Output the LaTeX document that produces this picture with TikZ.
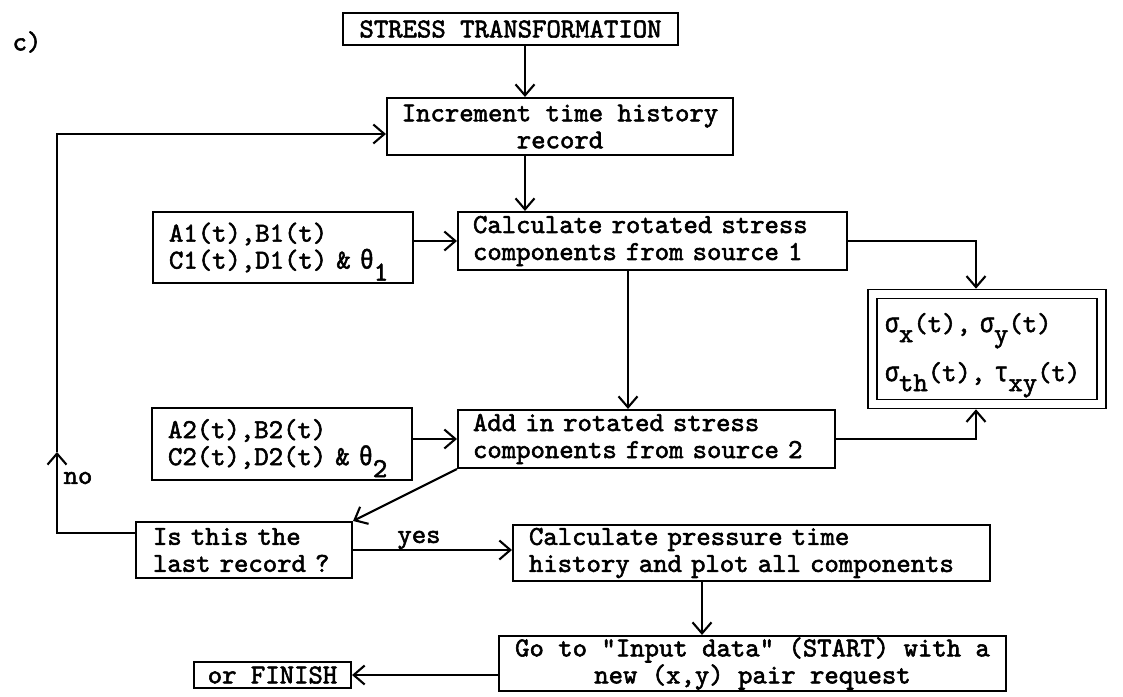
\documentclass[tikz,border=0pt]{standalone}
\usepackage{fontspec}
\usetikzlibrary{arrows.meta}
\newfontfamily\twfont{lmmono10-regular}[Extension=.otf, FakeBold=2]
\newfontfamily\grkfont{Liberation Mono}[FakeStretch=0.85, FakeBold=1.5]
\newcommand\lowsub[2][10pt]{\raisebox{-#1}[0pt][0pt]{#2}}
\newcommand\gk[1]{{\grkfont #1}}
\tikzset{
  txt/.style={font=\twfont\fontsize{27.4pt}{27pt}\selectfont},
  box/.style={txt, draw, line width=2.1pt, inner sep=0pt},
  lbl/.style={txt, inner sep=0pt},
  arr/.style={line width=2.1pt, -{Straight Barb[length=11pt,width=19pt]}},
}
\begin{document}
\begin{tikzpicture}[x=1pt,y=-1pt]
\path[fill=white] (0,0) rectangle (1123,696);
\useasboundingbox (0,0) rectangle (1123,696);

\node[lbl] (clabel) at (27,42) {c)};
\node[box, minimum width=335pt, minimum height=32pt] (title) at (510.5,29) {STRESS TRANSFORMATION};
\node[box, minimum width=346pt, minimum height=57pt, align=center] (inc) at (560,126.5) {Increment time history\\record};
\node[box, minimum width=389pt, minimum height=58pt, text width=359pt, align=left] (calc) at (652.5,241) {Calculate rotated stress\\components from source 1};
\node[box, minimum width=260pt, minimum height=71pt, text width=228pt, align=left] (a1) at (283,247.5) {A1(t),B1(t)\\C1(t),D1(t) \& \gk{θ}\lowsub[12pt]{1}};
\node[box, double, double distance=7.2pt, line width=1.8pt, minimum width=229pt, minimum height=110pt, text width=204pt, align=left] (sig) at (987,349) {\gk{σ}\lowsub{x}(t), \gk{σ}\lowsub{y}(t)\\[22pt]\gk{σ}\lowsub{th}(t), \gk{τ}\lowsub{xy}(t)};
\node[box, minimum width=260pt, minimum height=72pt, text width=228pt, align=left] (a2) at (282,444) {A2(t),B2(t)\\C2(t),D2(t) \& \gk{θ}\lowsub[12pt]{2}};
\node[box, minimum width=377pt, minimum height=58pt, text width=347pt, align=left] (add) at (646.5,439) {Add in rotated stress\\components from source 2};
\node[box, minimum width=216pt, minimum height=56pt, text width=182pt, align=left] (is) at (244,550) {Is this the\\last record ?};
\node[box, minimum width=477pt, minimum height=56pt, text width=445pt, align=left] (pres) at (751.5,553) {Calculate pressure time\\history and plot all components};
\node[box, minimum width=507pt, minimum height=55pt, align=center] (go) at (752.5,663.5) {Go to "Input data" (START) with a\\new (x,y) pair request};
\node[box, minimum width=157pt, minimum height=26pt] (fin) at (272.5,675) {or FINISH};

\node[lbl] (yes) at (419,540) {yes};
\node[lbl] (no) at (78,478) {no};

\coordinate (vx) at (525,0);
\coordinate (vs) at (976,0);
\coordinate (vc) at (628,0);
\coordinate (vp) at (702,0);
\coordinate (lb) at (57,533);
\coordinate (lm) at (57,452);
\coordinate (lt) at (57,134);

\draw[arr] (title.south -| vx) -- (inc.north -| vx);
\draw[arr] (inc.south -| vx) -- (calc.north -| vx);
\draw[arr] (a1.east |- calc.west) -- (calc.west);
\draw[arr, shorten >=4.4pt] (calc.east) -| (vs |- sig.north);
\draw[arr] (calc.south -| vc) -- (add.north -| vc);
\draw[arr] (a2.east |- add.west) -- (add.west);
\draw[arr, shorten >=4.4pt] (add.east) -| (vs |- sig.south);
\draw[arr] (add.south west) -- (is.north east);
\draw[arr] (is.east) -- (is.east -| pres.west);
\draw[arr] (pres.south -| vp) -- (go.north -| vp);
\draw[arr] (go.west |- fin.east) -- (fin.east);
\draw[arr] (lb -| is.west) -- (lb) -- (lm);
\draw[arr] (lm) -- (lt) -- (lt -| inc.west);
\end{tikzpicture}
\end{document}
